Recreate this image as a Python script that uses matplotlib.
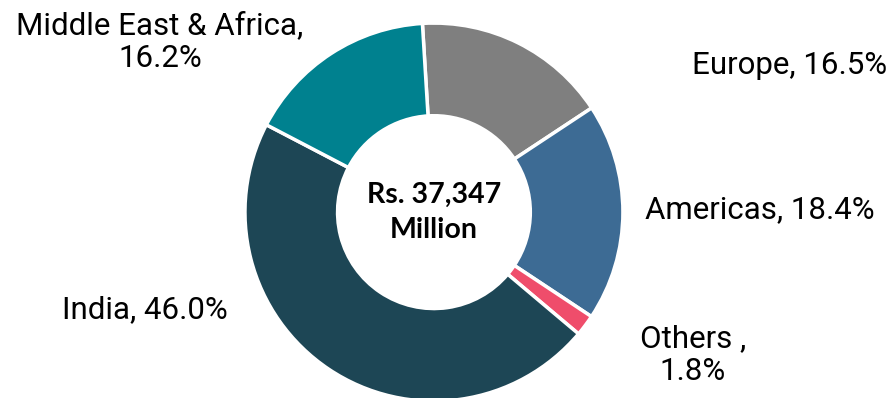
import matplotlib.pyplot as plt

# Revenue split by region
regions = ['Europe', 'Americas', 'Others ', 'India', 'Middle East & Africa']
shares = [16.5, 18.4, 1.8, 46.0, 16.2]
colors = ['#7F7F7F', '#3D6B94', '#EF4D6B', '#1D4655', '#00818F']
total_label = 'Rs. 37,347\nMillion'

plt.rcParams['font.family'] = ['Roboto', 'DejaVu Sans']

fig = plt.figure(figsize=(8.95, 3.98), dpi=100)
ax = fig.add_axes([0.2737, -0.008, 0.4223, 0.95])

ax.pie(shares, colors=colors, startangle=93.5, counterclock=False,
       wedgeprops=dict(width=0.49, edgecolor='white', linewidth=2.5))
ax.set_xlim(-1, 1)
ax.set_ylim(-1, 1)
ax.set_aspect('auto')

ax.text(0, 0.0, total_label, ha='center', va='center', fontsize=20.5,
        fontweight='bold', family=['Lato', 'DejaVu Sans'], linespacing=1.45)

# labels placed around the ring (figure pixels, from the top-left)
label_pos = {
    'Europe': (790, 66),
    'Americas': (760, 210),
    'Others ': (693, 355),
    'India': (145, 310),
    'Middle East & Africa': (160, 42),
}
for name, val in zip(regions, shares):
    x, y = label_pos[name]
    if name in ('Others ', 'Middle East & Africa'):
        txt = f'{name},\n{val:.1f}%'
    else:
        txt = f'{name}, {val:.1f}%'
    fig.text(x / 895, 1 - y / 398, txt, ha='center', va='center', fontsize=22.5,
             linespacing=1.2)

fig.savefig('out.png', dpi=100)
